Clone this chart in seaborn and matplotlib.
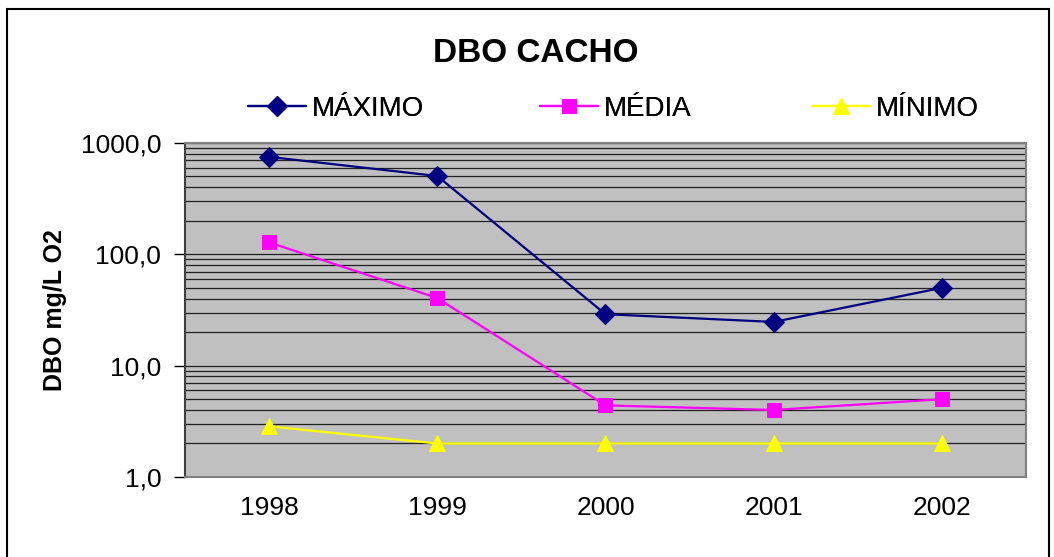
import numpy as np
import pandas as pd
import matplotlib
matplotlib.use('Agg')
import matplotlib.pyplot as plt
import seaborn as sns
from matplotlib.ticker import FixedLocator, LogLocator, NullFormatter
from matplotlib.patches import Rectangle

# dados
anos = ['1998', '1999', '2000', '2001', '2002']
maximo = [750.0, 505.0, 29.0, 24.7, 50.0]
media = [128.0, 40.5, 4.4, 4.0, 5.0]
minimo = [2.85, 2.0, 2.0, 2.0, 2.0]
series_nomes = ['MÁXIMO', 'MÉDIA', 'MÍNIMO']
y_ticks = [1, 10, 100, 1000]
y_labels = ['1,0', '10,0', '100,0', '1000,0']

df = pd.DataFrame({'ano': anos * 3,
                   'pos': list(range(len(anos))) * 3,
                   'serie': np.repeat(series_nomes, len(anos)),
                   'valor': maximo + media + minimo})

sns.set_style('white')
plt.rcParams['font.family'] = ['Liberation Sans', 'DejaVu Sans']
plt.rcParams['text.color'] = 'black'
plt.rcParams['axes.labelcolor'] = 'black'
plt.rcParams['xtick.color'] = 'black'
plt.rcParams['ytick.color'] = 'black'

fig = plt.figure(figsize=(10.54, 5.57), dpi=100)
ax = fig.add_axes([0.1755, 0.1436, 0.7979, 0.5997])
ax.set_facecolor('#C0C0C0')

cores = {'MÁXIMO': '#000080', 'MÉDIA': '#FF00FF', 'MÍNIMO': '#FFFF00'}
marcadores = {'MÁXIMO': 'D', 'MÉDIA': 's', 'MÍNIMO': '^'}
tamanhos = {'MÁXIMO': 10, 'MÉDIA': 10, 'MÍNIMO': 12}

for nome in series_nomes:
    d = df[df['serie'] == nome]
    sns.lineplot(data=d, x='pos', y='valor', ax=ax, color=cores[nome],
                 marker=marcadores[nome], markersize=tamanhos[nome],
                 markeredgecolor=cores[nome], linewidth=1.6, label=nome,
                 zorder=3)

ax.set_yscale('log')
ax.set_ylim(1, 1000)
ax.set_xlim(-0.5, len(anos) - 0.5)
ax.yaxis.set_major_locator(FixedLocator(y_ticks))
ax.set_yticklabels(y_labels)
ax.yaxis.set_minor_locator(LogLocator(base=10, subs=np.arange(2, 10)))
ax.yaxis.set_minor_formatter(NullFormatter())
ax.set_xticks(range(len(anos)))
ax.set_xticklabels(anos)

ax.grid(True, which='both', axis='y', color='#202020', linewidth=0.9, zorder=1)
ax.set_axisbelow(True)
ax.tick_params(axis='y', which='major', direction='out', length=8, width=1,
               color='black', left=True, labelsize=19, pad=9)
ax.tick_params(axis='y', which='minor', length=0)
ax.tick_params(axis='x', length=0, labelsize=19, pad=14)

for s in ax.spines.values():
    s.set_color('#808080')
    s.set_linewidth(1.5)
ax.spines['left'].set_color('#404040')

ax.set_xlabel('')
ax.set_ylabel('DBO mg/L O2', fontsize=18, fontweight='bold', labelpad=10)

fig.text(0.508, 0.904, 'DBO CACHO', ha='center', va='center',
         fontsize=24, fontweight='bold')

ax.get_legend().remove()
h, l = ax.get_legend_handles_labels()
# uma legenda por série, posicionadas como no original
x_leg = [248 / 1054, 540 / 1054, 812 / 1054]
for hi, li, xi in zip(h, l, x_leg):
    leg = fig.legend([hi], [li], loc='center left', bbox_to_anchor=(xi, 0.805),
                     frameon=False, fontsize=20, handlelength=2.1,
                     handletextpad=0.2, borderaxespad=0, borderpad=0)
    fig.add_artist(leg)

fig.patches.append(Rectangle((7 / 1054, -0.02), 1042 / 1054, 1.02 - 9 / 557,
                             transform=fig.transFigure, fill=False,
                             edgecolor='black', linewidth=1.5))

fig.savefig('out.png', dpi=100)
